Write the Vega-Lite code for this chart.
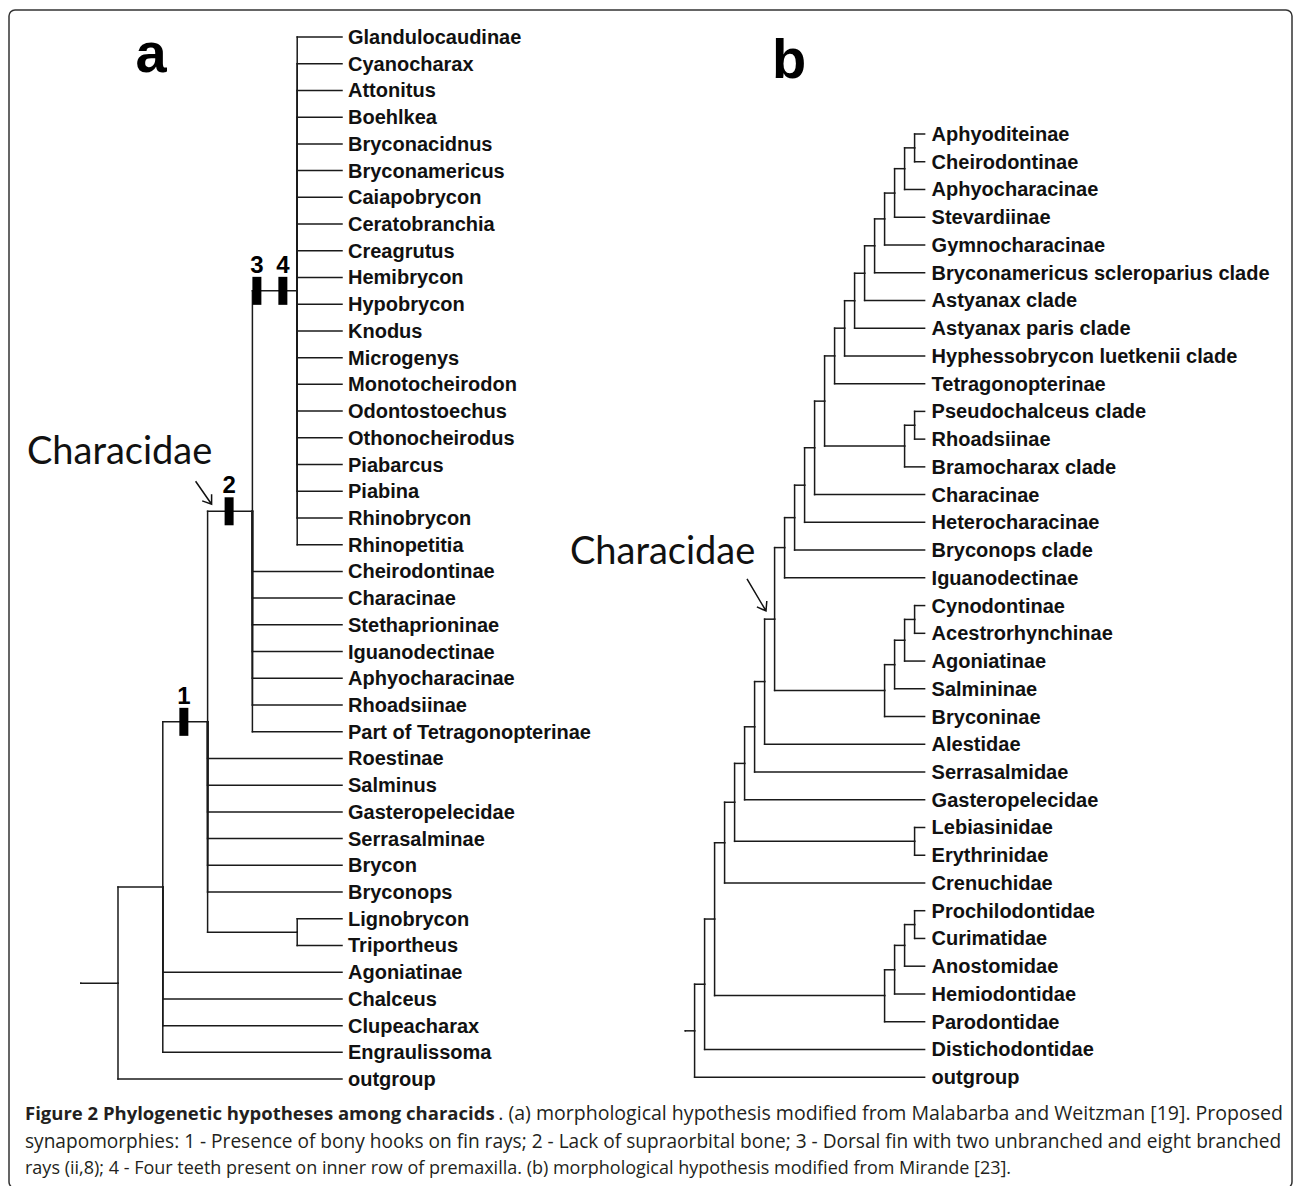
{
  "$schema": "https://vega.github.io/schema/vega-lite/v6.json",
  "width": 1293,
  "height": 1186,
  "autosize": {"type": "fit", "contains": "padding"},
  "padding": {"left": 9, "top": 10, "right": 1, "bottom": -2},
  "background": "white",
  "config": {"view": {"stroke": "#333333", "strokeWidth": 1.5, "cornerRadius": 6}},
  "datasets": {
    "treeA": [
      {"node": "A0", "parent": "stem", "depth": 0, "row": 35.41, "pdepth": -0.83, "prow": 35.41},
      {"node": "A1", "parent": "A0", "depth": 1, "row": 31.81, "pdepth": 0, "prow": 35.41},
      {"node": "A2", "parent": "A1", "depth": 2, "row": 25.63, "pdepth": 1, "prow": 31.81},
      {"node": "A3", "parent": "A2", "depth": 3, "row": 17.75, "pdepth": 2, "prow": 25.63},
      {"node": "A4", "parent": "A3", "depth": 4, "row": 9.5, "pdepth": 3, "prow": 17.75},
      {"node": "A5", "parent": "A2", "depth": 4, "row": 33.5, "pdepth": 2, "prow": 25.63},
      {"node": "Glandulocaudinae", "taxon": "Glandulocaudinae", "parent": "A4", "depth": 5, "row": 0, "pdepth": 4, "prow": 9.5},
      {"node": "Cyanocharax", "taxon": "Cyanocharax", "parent": "A4", "depth": 5, "row": 1, "pdepth": 4, "prow": 9.5},
      {"node": "Attonitus", "taxon": "Attonitus", "parent": "A4", "depth": 5, "row": 2, "pdepth": 4, "prow": 9.5},
      {"node": "Boehlkea", "taxon": "Boehlkea", "parent": "A4", "depth": 5, "row": 3, "pdepth": 4, "prow": 9.5},
      {"node": "Bryconacidnus", "taxon": "Bryconacidnus", "parent": "A4", "depth": 5, "row": 4, "pdepth": 4, "prow": 9.5},
      {"node": "Bryconamericus", "taxon": "Bryconamericus", "parent": "A4", "depth": 5, "row": 5, "pdepth": 4, "prow": 9.5},
      {"node": "Caiapobrycon", "taxon": "Caiapobrycon", "parent": "A4", "depth": 5, "row": 6, "pdepth": 4, "prow": 9.5},
      {"node": "Ceratobranchia", "taxon": "Ceratobranchia", "parent": "A4", "depth": 5, "row": 7, "pdepth": 4, "prow": 9.5},
      {"node": "Creagrutus", "taxon": "Creagrutus", "parent": "A4", "depth": 5, "row": 8, "pdepth": 4, "prow": 9.5},
      {"node": "Hemibrycon", "taxon": "Hemibrycon", "parent": "A4", "depth": 5, "row": 9, "pdepth": 4, "prow": 9.5},
      {"node": "Hypobrycon", "taxon": "Hypobrycon", "parent": "A4", "depth": 5, "row": 10, "pdepth": 4, "prow": 9.5},
      {"node": "Knodus", "taxon": "Knodus", "parent": "A4", "depth": 5, "row": 11, "pdepth": 4, "prow": 9.5},
      {"node": "Microgenys", "taxon": "Microgenys", "parent": "A4", "depth": 5, "row": 12, "pdepth": 4, "prow": 9.5},
      {"node": "Monotocheirodon", "taxon": "Monotocheirodon", "parent": "A4", "depth": 5, "row": 13, "pdepth": 4, "prow": 9.5},
      {"node": "Odontostoechus", "taxon": "Odontostoechus", "parent": "A4", "depth": 5, "row": 14, "pdepth": 4, "prow": 9.5},
      {"node": "Othonocheirodus", "taxon": "Othonocheirodus", "parent": "A4", "depth": 5, "row": 15, "pdepth": 4, "prow": 9.5},
      {"node": "Piabarcus", "taxon": "Piabarcus", "parent": "A4", "depth": 5, "row": 16, "pdepth": 4, "prow": 9.5},
      {"node": "Piabina", "taxon": "Piabina", "parent": "A4", "depth": 5, "row": 17, "pdepth": 4, "prow": 9.5},
      {"node": "Rhinobrycon", "taxon": "Rhinobrycon", "parent": "A4", "depth": 5, "row": 18, "pdepth": 4, "prow": 9.5},
      {"node": "Rhinopetitia", "taxon": "Rhinopetitia", "parent": "A4", "depth": 5, "row": 19, "pdepth": 4, "prow": 9.5},
      {"node": "a_Cheirodontinae", "taxon": "Cheirodontinae", "parent": "A3", "depth": 5, "row": 20, "pdepth": 3, "prow": 17.75},
      {"node": "a_Characinae", "taxon": "Characinae", "parent": "A3", "depth": 5, "row": 21, "pdepth": 3, "prow": 17.75},
      {"node": "Stethaprioninae", "taxon": "Stethaprioninae", "parent": "A3", "depth": 5, "row": 22, "pdepth": 3, "prow": 17.75},
      {"node": "a_Iguanodectinae", "taxon": "Iguanodectinae", "parent": "A3", "depth": 5, "row": 23, "pdepth": 3, "prow": 17.75},
      {"node": "a_Aphyocharacinae", "taxon": "Aphyocharacinae", "parent": "A3", "depth": 5, "row": 24, "pdepth": 3, "prow": 17.75},
      {"node": "a_Rhoadsiinae", "taxon": "Rhoadsiinae", "parent": "A3", "depth": 5, "row": 25, "pdepth": 3, "prow": 17.75},
      {"node": "PartTetra", "taxon": "Part of Tetragonopterinae", "parent": "A3", "depth": 5, "row": 26, "pdepth": 3, "prow": 17.75},
      {"node": "Roestinae", "taxon": "Roestinae", "parent": "A2", "depth": 5, "row": 27, "pdepth": 2, "prow": 25.63},
      {"node": "Salminus", "taxon": "Salminus", "parent": "A2", "depth": 5, "row": 28, "pdepth": 2, "prow": 25.63},
      {"node": "a_Gasteropelecidae", "taxon": "Gasteropelecidae", "parent": "A2", "depth": 5, "row": 29, "pdepth": 2, "prow": 25.63},
      {"node": "Serrasalminae", "taxon": "Serrasalminae", "parent": "A2", "depth": 5, "row": 30, "pdepth": 2, "prow": 25.63},
      {"node": "Brycon", "taxon": "Brycon", "parent": "A2", "depth": 5, "row": 31, "pdepth": 2, "prow": 25.63},
      {"node": "Bryconops", "taxon": "Bryconops", "parent": "A2", "depth": 5, "row": 32, "pdepth": 2, "prow": 25.63},
      {"node": "Lignobrycon", "taxon": "Lignobrycon", "parent": "A5", "depth": 5, "row": 33, "pdepth": 4, "prow": 33.5},
      {"node": "Triportheus", "taxon": "Triportheus", "parent": "A5", "depth": 5, "row": 34, "pdepth": 4, "prow": 33.5},
      {"node": "a_Agoniatinae", "taxon": "Agoniatinae", "parent": "A1", "depth": 5, "row": 35, "pdepth": 1, "prow": 31.81},
      {"node": "Chalceus", "taxon": "Chalceus", "parent": "A1", "depth": 5, "row": 36, "pdepth": 1, "prow": 31.81},
      {"node": "Clupeacharax", "taxon": "Clupeacharax", "parent": "A1", "depth": 5, "row": 37, "pdepth": 1, "prow": 31.81},
      {"node": "Engraulissoma", "taxon": "Engraulissoma", "parent": "A1", "depth": 5, "row": 38, "pdepth": 1, "prow": 31.81},
      {"node": "a_outgroup", "taxon": "outgroup", "parent": "A0", "depth": 5, "row": 39, "pdepth": 0, "prow": 35.41}
    ],
    "synapoA": [
      {"character": "1", "depth": 1.47, "row": 25.63},
      {"character": "2", "depth": 2.48, "row": 17.75},
      {"character": "3", "depth": 3.1, "row": 9.5},
      {"character": "4", "depth": 3.68, "row": 9.5}
    ],
    "notesA": [
      {"kind": "panel", "text": "a", "depth": 0.74, "row": 1.31},
      {"kind": "clade", "text": "Characidae", "depth": 2, "row": 17.75}
    ],
    "treeB": [
      {"node": "B0", "parent": "stem", "depth": 0, "row": 32.33, "pdepth": -0.93, "prow": 32.33},
      {"node": "B1", "parent": "B0", "depth": 1, "row": 30.65, "pdepth": 0, "prow": 32.33},
      {"node": "B2", "parent": "B1", "depth": 2, "row": 28.3, "pdepth": 1, "prow": 30.65},
      {"node": "B3", "parent": "B2", "depth": 3, "row": 25.55, "pdepth": 2, "prow": 28.3},
      {"node": "B4", "parent": "B3", "depth": 4, "row": 24.09, "pdepth": 3, "prow": 25.55},
      {"node": "B5", "parent": "B4", "depth": 5, "row": 22.69, "pdepth": 4, "prow": 24.09},
      {"node": "B6", "parent": "B5", "depth": 6, "row": 21.37, "pdepth": 5, "prow": 22.69},
      {"node": "B7", "parent": "B6", "depth": 7, "row": 19.74, "pdepth": 6, "prow": 21.37},
      {"node": "B8", "parent": "B7", "depth": 8, "row": 17.49, "pdepth": 7, "prow": 19.74},
      {"node": "B9", "parent": "B8", "depth": 9, "row": 14.91, "pdepth": 8, "prow": 17.49},
      {"node": "B10", "parent": "B9", "depth": 10, "row": 13.83, "pdepth": 9, "prow": 14.91},
      {"node": "B11", "parent": "B10", "depth": 11, "row": 12.66, "pdepth": 10, "prow": 13.83},
      {"node": "B12", "parent": "B11", "depth": 12, "row": 11.31, "pdepth": 11, "prow": 12.66},
      {"node": "B13", "parent": "B12", "depth": 13, "row": 9.63, "pdepth": 12, "prow": 11.31},
      {"node": "B14", "parent": "B13", "depth": 14, "row": 8.0, "pdepth": 13, "prow": 9.63},
      {"node": "B15", "parent": "B14", "depth": 15, "row": 7.0, "pdepth": 14, "prow": 8.0},
      {"node": "B16", "parent": "B15", "depth": 16, "row": 6.01, "pdepth": 15, "prow": 7.0},
      {"node": "B17", "parent": "B16", "depth": 17, "row": 5.02, "pdepth": 16, "prow": 6.01},
      {"node": "B18", "parent": "B17", "depth": 18, "row": 4.03, "pdepth": 17, "prow": 5.02},
      {"node": "B19a", "parent": "B18", "depth": 19, "row": 3.06, "pdepth": 18, "prow": 4.03},
      {"node": "B20a", "parent": "B19a", "depth": 20, "row": 2.13, "pdepth": 19, "prow": 3.06},
      {"node": "B21a", "parent": "B20a", "depth": 21, "row": 1.25, "pdepth": 20, "prow": 2.13},
      {"node": "B22a", "parent": "B21a", "depth": 22, "row": 0.5, "pdepth": 21, "prow": 1.25},
      {"node": "B21b", "parent": "B13", "depth": 21, "row": 11.25, "pdepth": 13, "prow": 9.63},
      {"node": "B22b", "parent": "B21b", "depth": 22, "row": 10.5, "pdepth": 21, "prow": 11.25},
      {"node": "B19c", "parent": "B8", "depth": 19, "row": 20.06, "pdepth": 8, "prow": 17.49},
      {"node": "B20c", "parent": "B19c", "depth": 20, "row": 19.13, "pdepth": 19, "prow": 20.06},
      {"node": "B21c", "parent": "B20c", "depth": 21, "row": 18.25, "pdepth": 20, "prow": 19.13},
      {"node": "B22c", "parent": "B21c", "depth": 22, "row": 17.5, "pdepth": 21, "prow": 18.25},
      {"node": "B22d", "parent": "B4", "depth": 22, "row": 25.5, "pdepth": 4, "prow": 24.09},
      {"node": "B19e", "parent": "B2", "depth": 19, "row": 31.06, "pdepth": 2, "prow": 28.3},
      {"node": "B20e", "parent": "B19e", "depth": 20, "row": 30.13, "pdepth": 19, "prow": 31.06},
      {"node": "B21e", "parent": "B20e", "depth": 21, "row": 29.25, "pdepth": 20, "prow": 30.13},
      {"node": "B22e", "parent": "B21e", "depth": 22, "row": 28.5, "pdepth": 21, "prow": 29.25},
      {"node": "Aphyoditeinae", "taxon": "Aphyoditeinae", "parent": "B22a", "depth": 23, "row": 0, "pdepth": 22, "prow": 0.5},
      {"node": "Cheirodontinae", "taxon": "Cheirodontinae", "parent": "B22a", "depth": 23, "row": 1, "pdepth": 22, "prow": 0.5},
      {"node": "Aphyocharacinae", "taxon": "Aphyocharacinae", "parent": "B21a", "depth": 23, "row": 2, "pdepth": 21, "prow": 1.25},
      {"node": "Stevardiinae", "taxon": "Stevardiinae", "parent": "B20a", "depth": 23, "row": 3, "pdepth": 20, "prow": 2.13},
      {"node": "Gymnocharacinae", "taxon": "Gymnocharacinae", "parent": "B19a", "depth": 23, "row": 4, "pdepth": 19, "prow": 3.06},
      {"node": "BrycSclero", "taxon": "Bryconamericus scleroparius clade", "parent": "B18", "depth": 23, "row": 5, "pdepth": 18, "prow": 4.03},
      {"node": "Astyanax", "taxon": "Astyanax clade", "parent": "B17", "depth": 23, "row": 6, "pdepth": 17, "prow": 5.02},
      {"node": "AstyanaxParis", "taxon": "Astyanax paris clade", "parent": "B16", "depth": 23, "row": 7, "pdepth": 16, "prow": 6.01},
      {"node": "Hyphesso", "taxon": "Hyphessobrycon luetkenii clade", "parent": "B15", "depth": 23, "row": 8, "pdepth": 15, "prow": 7.0},
      {"node": "Tetragonopterinae", "taxon": "Tetragonopterinae", "parent": "B14", "depth": 23, "row": 9, "pdepth": 14, "prow": 8.0},
      {"node": "Pseudochalceus", "taxon": "Pseudochalceus clade", "parent": "B22b", "depth": 23, "row": 10, "pdepth": 22, "prow": 10.5},
      {"node": "Rhoadsiinae", "taxon": "Rhoadsiinae", "parent": "B22b", "depth": 23, "row": 11, "pdepth": 22, "prow": 10.5},
      {"node": "Bramocharax", "taxon": "Bramocharax clade", "parent": "B21b", "depth": 23, "row": 12, "pdepth": 21, "prow": 11.25},
      {"node": "Characinae", "taxon": "Characinae", "parent": "B12", "depth": 23, "row": 13, "pdepth": 12, "prow": 11.31},
      {"node": "Heterocharacinae", "taxon": "Heterocharacinae", "parent": "B11", "depth": 23, "row": 14, "pdepth": 11, "prow": 12.66},
      {"node": "BryconopsClade", "taxon": "Bryconops clade", "parent": "B10", "depth": 23, "row": 15, "pdepth": 10, "prow": 13.83},
      {"node": "Iguanodectinae", "taxon": "Iguanodectinae", "parent": "B9", "depth": 23, "row": 16, "pdepth": 9, "prow": 14.91},
      {"node": "Cynodontinae", "taxon": "Cynodontinae", "parent": "B22c", "depth": 23, "row": 17, "pdepth": 22, "prow": 17.5},
      {"node": "Acestrorhynchinae", "taxon": "Acestrorhynchinae", "parent": "B22c", "depth": 23, "row": 18, "pdepth": 22, "prow": 17.5},
      {"node": "Agoniatinae", "taxon": "Agoniatinae", "parent": "B21c", "depth": 23, "row": 19, "pdepth": 21, "prow": 18.25},
      {"node": "Salmininae", "taxon": "Salmininae", "parent": "B20c", "depth": 23, "row": 20, "pdepth": 20, "prow": 19.13},
      {"node": "Bryconinae", "taxon": "Bryconinae", "parent": "B19c", "depth": 23, "row": 21, "pdepth": 19, "prow": 20.06},
      {"node": "Alestidae", "taxon": "Alestidae", "parent": "B7", "depth": 23, "row": 22, "pdepth": 7, "prow": 19.74},
      {"node": "Serrasalmidae", "taxon": "Serrasalmidae", "parent": "B6", "depth": 23, "row": 23, "pdepth": 6, "prow": 21.37},
      {"node": "Gasteropelecidae", "taxon": "Gasteropelecidae", "parent": "B5", "depth": 23, "row": 24, "pdepth": 5, "prow": 22.69},
      {"node": "Lebiasinidae", "taxon": "Lebiasinidae", "parent": "B22d", "depth": 23, "row": 25, "pdepth": 22, "prow": 25.5},
      {"node": "Erythrinidae", "taxon": "Erythrinidae", "parent": "B22d", "depth": 23, "row": 26, "pdepth": 22, "prow": 25.5},
      {"node": "Crenuchidae", "taxon": "Crenuchidae", "parent": "B3", "depth": 23, "row": 27, "pdepth": 3, "prow": 25.55},
      {"node": "Prochilodontidae", "taxon": "Prochilodontidae", "parent": "B22e", "depth": 23, "row": 28, "pdepth": 22, "prow": 28.5},
      {"node": "Curimatidae", "taxon": "Curimatidae", "parent": "B22e", "depth": 23, "row": 29, "pdepth": 22, "prow": 28.5},
      {"node": "Anostomidae", "taxon": "Anostomidae", "parent": "B21e", "depth": 23, "row": 30, "pdepth": 21, "prow": 29.25},
      {"node": "Hemiodontidae", "taxon": "Hemiodontidae", "parent": "B20e", "depth": 23, "row": 31, "pdepth": 20, "prow": 30.13},
      {"node": "Parodontidae", "taxon": "Parodontidae", "parent": "B19e", "depth": 23, "row": 32, "pdepth": 19, "prow": 31.06},
      {"node": "Distichodontidae", "taxon": "Distichodontidae", "parent": "B1", "depth": 23, "row": 33, "pdepth": 1, "prow": 30.65},
      {"node": "outgroup", "taxon": "outgroup", "parent": "B0", "depth": 23, "row": 34, "pdepth": 0, "prow": 32.33}
    ],
    "notesB": [
      {"kind": "panel", "text": "b", "depth": 9.44, "row": -2.02},
      {"kind": "clade", "text": "Characidae", "depth": 8, "row": 17.49}
    ],
    "caption": [
      {"line": 0, "side": "left", "part": "title", "text": "Figure 2 Phylogenetic hypotheses among characids"},
      {"line": 0, "side": "right", "part": "body", "text": ". (a) morphological hypothesis modified from Malabarba and Weitzman [19]. Proposed"},
      {"line": 1, "side": "left", "part": "body", "text": "synapomorphies: 1 - Presence of bony hooks on fin rays; 2 - Lack of supraorbital bone; 3 - Dorsal fin with two unbranched and eight branched"},
      {"line": 2, "side": "left", "part": "body", "text": "rays (ii,8); 4 - Four teeth present on inner row of premaxilla. (b) morphological hypothesis modified from Mirande [23]."}
    ]
  },
  "layer": [
    {
      "layer": [
        {
          "data": {"name": "treeA"},
          "mark": {"type": "rule", "stroke": "#1a1a1a", "strokeWidth": 1.5, "strokeCap": "square"},
          "encoding": {
            "x": {"field": "pdepth", "type": "quantitative", "scale": {"domain": [-2.433, 26.205], "nice": false, "zero": false}, "axis": null},
            "x2": {"field": "depth"},
            "y": {"field": "row", "type": "quantitative", "scale": {"domain": [-1.0105, 43.076], "nice": false, "zero": false, "reverse": true}, "axis": null}
          }
        },
        {
          "data": {"name": "treeA"},
          "mark": {"type": "rule", "stroke": "#1a1a1a", "strokeWidth": 1.5, "strokeCap": "square"},
          "encoding": {
            "x": {"field": "pdepth", "type": "quantitative", "scale": {"domain": [-2.433, 26.205], "nice": false, "zero": false}, "axis": null},
            "y": {"field": "prow", "type": "quantitative", "scale": {"domain": [-1.0105, 43.076], "nice": false, "zero": false, "reverse": true}, "axis": null},
            "y2": {"field": "row"}
          }
        },
        {
          "data": {"name": "treeA"},
          "transform": [{"filter": "datum.taxon != null"}],
          "mark": {"type": "text", "align": "left", "baseline": "middle", "dx": 6, "dy": 1, "font": "Liberation Sans", "fontWeight": "bold", "fontSize": 20, "fill": "#111111"},
          "encoding": {
            "x": {"field": "depth", "type": "quantitative", "scale": {"domain": [-2.433, 26.205], "nice": false, "zero": false}, "axis": null},
            "y": {"field": "row", "type": "quantitative", "scale": {"domain": [-1.0105, 43.076], "nice": false, "zero": false, "reverse": true}, "axis": null},
            "text": {"field": "taxon"}
          }
        },
        {
          "data": {"name": "synapoA"},
          "mark": {"type": "tick", "orient": "vertical", "size": 28, "thickness": 9, "color": "#000000", "opacity": 1},
          "encoding": {
            "x": {"field": "depth", "type": "quantitative", "scale": {"domain": [-2.433, 26.205], "nice": false, "zero": false}, "axis": null},
            "y": {"field": "row", "type": "quantitative", "scale": {"domain": [-1.0105, 43.076], "nice": false, "zero": false, "reverse": true}, "axis": null}
          }
        },
        {
          "data": {"name": "synapoA"},
          "mark": {"type": "text", "align": "center", "baseline": "alphabetic", "dy": -18, "font": "Liberation Sans", "fontWeight": "bold", "fontSize": 24, "fill": "#000000"},
          "encoding": {
            "x": {"field": "depth", "type": "quantitative", "scale": {"domain": [-2.433, 26.205], "nice": false, "zero": false}, "axis": null},
            "y": {"field": "row", "type": "quantitative", "scale": {"domain": [-1.0105, 43.076], "nice": false, "zero": false, "reverse": true}, "axis": null},
            "text": {"field": "character"}
          }
        },
        {
          "data": {"name": "notesA"},
          "transform": [{"filter": "datum.kind == 'panel'"}],
          "mark": {"type": "text", "align": "center", "baseline": "alphabetic", "font": "Liberation Sans", "fontWeight": "bold", "fontSize": 56, "fill": "#000000"},
          "encoding": {
            "x": {"field": "depth", "type": "quantitative", "scale": {"domain": [-2.433, 26.205], "nice": false, "zero": false}, "axis": null},
            "y": {"field": "row", "type": "quantitative", "scale": {"domain": [-1.0105, 43.076], "nice": false, "zero": false, "reverse": true}, "axis": null},
            "text": {"field": "text"}
          }
        },
        {
          "data": {"name": "notesA"},
          "transform": [{"filter": "datum.kind == 'clade'"}],
          "mark": {"type": "text", "align": "center", "baseline": "middle", "dx": -88, "dy": -58, "font": "Lato", "fontSize": 38, "fill": "#111111"},
          "encoding": {
            "x": {"field": "depth", "type": "quantitative", "scale": {"domain": [-2.433, 26.205], "nice": false, "zero": false}, "axis": null},
            "y": {"field": "row", "type": "quantitative", "scale": {"domain": [-1.0105, 43.076], "nice": false, "zero": false, "reverse": true}, "axis": null},
            "text": {"field": "text"}
          }
        },
        {
          "data": {"name": "notesA"},
          "transform": [{"filter": "datum.kind == 'clade'"}],
          "mark": {"type": "point", "shape": "M-0.3,-0.75L0.1,-0.175M0.1,-0.425L0.1,-0.175L-0.135,-0.26", "size": 6400, "filled": false, "stroke": "#111111", "strokeWidth": 1.5, "opacity": 1},
          "encoding": {
            "x": {"field": "depth", "type": "quantitative", "scale": {"domain": [-2.433, 26.205], "nice": false, "zero": false}, "axis": null},
            "y": {"field": "row", "type": "quantitative", "scale": {"domain": [-1.0105, 43.076], "nice": false, "zero": false, "reverse": true}, "axis": null}
          }
        }
      ]
    },
    {
      "layer": [
        {
          "data": {"name": "treeB"},
          "mark": {"type": "rule", "stroke": "#1a1a1a", "strokeWidth": 1.5, "strokeCap": "square"},
          "encoding": {
            "x": {"field": "pdepth", "type": "quantitative", "scale": {"domain": [-68.56, 59.74], "nice": false, "zero": false}, "axis": null},
            "x2": {"field": "depth"},
            "y": {"field": "row", "type": "quantitative", "scale": {"domain": [-4.47, 37.996], "nice": false, "zero": false, "reverse": true}, "axis": null}
          }
        },
        {
          "data": {"name": "treeB"},
          "mark": {"type": "rule", "stroke": "#1a1a1a", "strokeWidth": 1.5, "strokeCap": "square"},
          "encoding": {
            "x": {"field": "pdepth", "type": "quantitative", "scale": {"domain": [-68.56, 59.74], "nice": false, "zero": false}, "axis": null},
            "y": {"field": "prow", "type": "quantitative", "scale": {"domain": [-4.47, 37.996], "nice": false, "zero": false, "reverse": true}, "axis": null},
            "y2": {"field": "row"}
          }
        },
        {
          "data": {"name": "treeB"},
          "transform": [{"filter": "datum.taxon != null"}],
          "mark": {"type": "text", "align": "left", "baseline": "middle", "dx": 7, "dy": 1, "font": "Liberation Sans", "fontWeight": "bold", "fontSize": 20, "fill": "#111111"},
          "encoding": {
            "x": {"field": "depth", "type": "quantitative", "scale": {"domain": [-68.56, 59.74], "nice": false, "zero": false}, "axis": null},
            "y": {"field": "row", "type": "quantitative", "scale": {"domain": [-4.47, 37.996], "nice": false, "zero": false, "reverse": true}, "axis": null},
            "text": {"field": "taxon"}
          }
        },
        {
          "data": {"name": "notesB"},
          "transform": [{"filter": "datum.kind == 'panel'"}],
          "mark": {"type": "text", "align": "center", "baseline": "alphabetic", "font": "Liberation Sans", "fontWeight": "bold", "fontSize": 56, "fill": "#000000"},
          "encoding": {
            "x": {"field": "depth", "type": "quantitative", "scale": {"domain": [-68.56, 59.74], "nice": false, "zero": false}, "axis": null},
            "y": {"field": "row", "type": "quantitative", "scale": {"domain": [-4.47, 37.996], "nice": false, "zero": false, "reverse": true}, "axis": null},
            "text": {"field": "text"}
          }
        },
        {
          "data": {"name": "notesB"},
          "transform": [{"filter": "datum.kind == 'clade'"}],
          "mark": {"type": "text", "align": "center", "baseline": "middle", "dx": -112, "dy": -66, "font": "Lato", "fontSize": 38, "fill": "#111111"},
          "encoding": {
            "x": {"field": "depth", "type": "quantitative", "scale": {"domain": [-68.56, 59.74], "nice": false, "zero": false}, "axis": null},
            "y": {"field": "row", "type": "quantitative", "scale": {"domain": [-4.47, 37.996], "nice": false, "zero": false, "reverse": true}, "axis": null},
            "text": {"field": "text"}
          }
        },
        {
          "data": {"name": "notesB"},
          "transform": [{"filter": "datum.kind == 'clade'"}],
          "mark": {"type": "point", "shape": "M-0.69,-1.005L-0.215,-0.205M-0.195,-0.455L-0.215,-0.205L-0.4425,-0.3075", "size": 6400, "filled": false, "stroke": "#111111", "strokeWidth": 1.5, "opacity": 1},
          "encoding": {
            "x": {"field": "depth", "type": "quantitative", "scale": {"domain": [-68.56, 59.74], "nice": false, "zero": false}, "axis": null},
            "y": {"field": "row", "type": "quantitative", "scale": {"domain": [-4.47, 37.996], "nice": false, "zero": false, "reverse": true}, "axis": null}
          }
        }
      ]
    },
    {
      "data": {"name": "caption"},
      "layer": [
        {
          "transform": [{"filter": "datum.part == 'title'"}],
          "mark": {"type": "text", "align": "left", "baseline": "middle", "font": "Open Sans", "fontWeight": "bold", "fontSize": 18.5, "fill": "#231f20"},
          "encoding": {
            "x": {"field": "side", "type": "nominal", "scale": {"type": "point", "domain": ["left", "right"], "range": [16, 1274], "padding": 0}, "axis": null},
            "y": {"field": "line", "type": "quantitative", "scale": {"domain": [-40.145, 2.69], "nice": false, "zero": false, "reverse": true}, "axis": null},
            "text": {"field": "text"}
          }
        },
        {
          "transform": [{"filter": "datum.part == 'body' && datum.side == 'right'"}],
          "mark": {"type": "text", "align": "right", "baseline": "middle", "font": "Open Sans", "fontSize": 19.55, "fill": "#231f20"},
          "encoding": {
            "x": {"field": "side", "type": "nominal", "scale": {"type": "point", "domain": ["left", "right"], "range": [16, 1274], "padding": 0}, "axis": null},
            "y": {"field": "line", "type": "quantitative", "scale": {"domain": [-40.145, 2.69], "nice": false, "zero": false, "reverse": true}, "axis": null},
            "text": {"field": "text"}
          }
        },
        {
          "transform": [{"filter": "datum.part == 'body' && datum.side == 'left' && datum.line == 1"}],
          "mark": {"type": "text", "align": "left", "baseline": "middle", "font": "Open Sans", "fontSize": 19.1, "fill": "#231f20"},
          "encoding": {
            "x": {"field": "side", "type": "nominal", "scale": {"type": "point", "domain": ["left", "right"], "range": [16, 1274], "padding": 0}, "axis": null},
            "y": {"field": "line", "type": "quantitative", "scale": {"domain": [-40.145, 2.69], "nice": false, "zero": false, "reverse": true}, "axis": null},
            "text": {"field": "text"}
          }
        },
        {
          "transform": [{"filter": "datum.part == 'body' && datum.side == 'left' && datum.line == 2"}],
          "mark": {"type": "text", "align": "left", "baseline": "middle", "font": "Open Sans", "fontSize": 18, "fill": "#231f20"},
          "encoding": {
            "x": {"field": "side", "type": "nominal", "scale": {"type": "point", "domain": ["left", "right"], "range": [16, 1274], "padding": 0}, "axis": null},
            "y": {"field": "line", "type": "quantitative", "scale": {"domain": [-40.145, 2.69], "nice": false, "zero": false, "reverse": true}, "axis": null},
            "text": {"field": "text"}
          }
        }
      ]
    }
  ],
  "resolve": {"scale": {"x": "independent", "y": "independent"}}
}
